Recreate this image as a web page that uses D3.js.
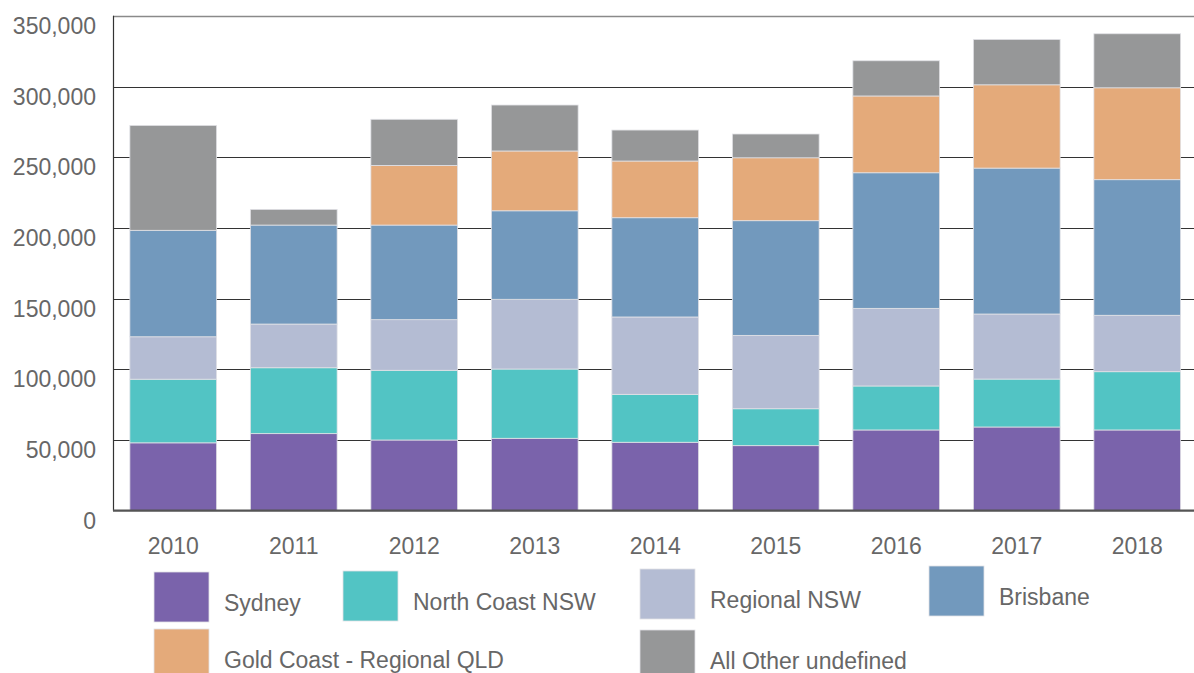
<!DOCTYPE html>
<html>
<head>
<meta charset="utf-8">
<script src="https://cdnjs.cloudflare.com/ajax/libs/d3/7.8.5/d3.min.js"></script>
<style>
    body { margin: 0; background: #fff; }
    svg { font-family: "Liberation Sans", Arial, sans-serif; }
</style>
</head>
<body>
<svg id="svg" width="1194" height="673"></svg>
<script>
// data
var years = ["2010", "2011", "2012", "2013", "2014", "2015", "2016", "2017", "2018"];
var seriesNames = ["Sydney", "North Coast NSW", "Regional NSW", "Brisbane", "Gold Coast - Regional QLD", "All Other undefined"];
var sydney     = [48000, 54500, 50000, 51200, 48400, 46000, 57100, 59200, 57100];
var northCoast = [45000, 46600, 49300, 49000, 33900, 26100, 31100, 33900, 41200];
var regional   = [30000, 30900, 35800, 49300, 54700, 51900, 54900, 46000, 39900];
var brisbane   = [75300, 70000, 66900, 62600, 70200, 81100, 95900, 103200, 95900];
var goldCoast  = [0, 0, 42200, 42300, 40100, 44500, 54300, 58900, 65000];
var allOther   = [74200, 11100, 32600, 32500, 21900, 16800, 24900, 32100, 38200];
var yTicks = [0, 50000, 100000, 150000, 200000, 250000, 300000, 350000];

var colors = ["#7a63ab", "#52c4c4", "#b4bcd3", "#7299bd", "#e4aa7a", "#969798"];

var svg = d3.select("svg"),
    width = +svg.attr("width"),
    height = +svg.attr("height");

var plotLeft = 113, plotTop = 15.8, plotBottom = 510.7;
var textColor = "#676767";

// build rows for the stack
var rows = years.map(function (yr, i) {
    return {
        year: yr,
        "Sydney": sydney[i],
        "North Coast NSW": northCoast[i],
        "Regional NSW": regional[i],
        "Brisbane": brisbane[i],
        "Gold Coast - Regional QLD": goldCoast[i],
        "All Other undefined": allOther[i]
    };
});

var x = d3.scaleBand()
    .domain(years)
    .range([plotLeft, plotLeft + 9 * 120.5])
    .paddingInner(0.28)
    .paddingOuter(0.14);

var y = d3.scaleLinear()
    .domain([0, 350000])
    .range([plotBottom, plotTop]);

var color = d3.scaleOrdinal().domain(seriesNames).range(colors);

// gridlines
svg.append("g")
    .selectAll("line")
    .data(yTicks.filter(function (t) { return t > 0; }))
    .enter()
    .append("line")
    .attr("x1", plotLeft)
    .attr("x2", width)
    .attr("y1", function (d) { return Math.round(y(d)) + 0.5; })
    .attr("y2", function (d) { return Math.round(y(d)) + 0.5; })
    .style("stroke", function (d) { return d === 350000 ? "#8a8a8a" : "#333"; })
    .style("stroke-width", function (d) { return d === 350000 ? 1.6 : 1.2; });

// y labels sit a little under their gridline
svg.append("g")
    .selectAll("text")
    .data(yTicks)
    .enter()
    .append("text")
    .attr("x", 96)
    .attr("y", function (d) { return y(d) + 12; })
    .attr("text-anchor", "end")
    .attr("dominant-baseline", "middle")
    .style("font-size", "23px")
    .style("fill", textColor)
    .text(function (d) { return d3.format(",")(d); });

// stacked bars
var stack = d3.stack().keys(seriesNames);
var layers = svg.append("g")
    .selectAll("g")
    .data(stack(rows))
    .enter()
    .append("g")
    .attr("fill", function (d) { return color(d.key); });

layers.selectAll("rect")
    .data(function (d) { return d; })
    .enter()
    .filter(function (d) { return d[1] - d[0] > 0; })
    .append("rect")
    .attr("x", function (d) { return x(d.data.year); })
    .attr("width", x.bandwidth())
    .attr("y", function (d) { return y(d[1]); })
    .attr("height", function (d) { return y(d[0]) - y(d[1]); })
    .style("stroke", "#e2e2e6")
    .style("stroke-width", 0.8);

// left axis line and baseline
svg.append("line")
    .attr("x1", plotLeft + 0.5).attr("x2", plotLeft + 0.5)
    .attr("y1", plotTop).attr("y2", plotBottom)
    .style("stroke", "#333")
    .style("stroke-width", 1.2);

svg.append("line")
    .attr("x1", plotLeft).attr("x2", width)
    .attr("y1", plotBottom).attr("y2", plotBottom)
    .style("stroke", "#555")
    .style("stroke-width", 2.2);

// x labels
svg.append("g")
    .selectAll("text")
    .data(years)
    .enter()
    .append("text")
    .attr("x", function (d) { return x(d) + x.bandwidth() / 2; })
    .attr("y", 548)
    .attr("text-anchor", "middle")
    .attr("dominant-baseline", "middle")
    .style("font-size", "23px")
    .style("fill", textColor)
    .text(function (d) { return d; });

// legend, laid out like the original (two rows, loose columns)
var legendX = [154, 343, 640, 929, 154, 640];
var legendY = [572, 571, 569, 566, 629, 630];

var legend = svg.append("g")
    .selectAll("g")
    .data(seriesNames)
    .enter()
    .append("g")
    .attr("transform", function (d, i) { return "translate(" + legendX[i] + "," + legendY[i] + ")"; });

legend.append("rect")
    .attr("width", 55)
    .attr("height", 50)
    .attr("fill", function (d) { return color(d); })
    .style("stroke", "#e2e2e6")
    .style("stroke-width", 0.8);

legend.append("text")
    .attr("x", 70)
    .attr("y", 33)
    .attr("dominant-baseline", "middle")
    .style("font-size", "23px")
    .style("fill", textColor)
    .text(function (d) { return d; });
</script>
</body>
</html>
